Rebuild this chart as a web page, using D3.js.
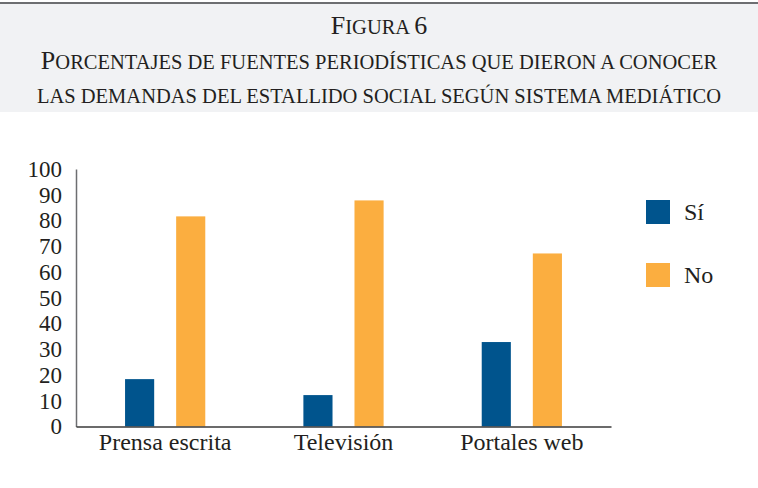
<!DOCTYPE html>
<html lang="es">
<head>
<meta charset="utf-8">
<title>Figura 6</title>
<script src="https://cdn.jsdelivr.net/npm/d3@7"></script>
<style>
    body { margin: 0; background: #fff; }
    #chart-area { width: 758px; height: 488px; }
    text { font-family: "Liberation Serif", "Times New Roman", serif; fill: #231f20; }
</style>
</head>
<body>
<div id="chart-area"></div>
<script>
// data
let categories = ["Prensa escrita", "Televisión", "Portales web"];
let seriesNames = ["Sí", "No"];
let siValues = [18.4, 12.2, 32.8];
let noValues = [81.6, 87.8, 67.2];
let yTicks = [0, 10, 20, 30, 40, 50, 60, 70, 80, 90, 100];
let titleLines = [
    "Figura 6",
    "Porcentajes de fuentes periodísticas que dieron a conocer",
    "las demandas del estallido social según sistema mediático"
];
let colors = ["#00548d", "#fbae40"];

// split a string into runs for hand-made small caps
function smallCapRuns(str) {
    let runs = [];
    for (let ch of str) {
        let small = ch !== ch.toUpperCase() || ch === " ";
        let last = runs[runs.length - 1];
        if (last && last.small === small) last.text += ch.toUpperCase();
        else runs.push({small: small, text: ch.toUpperCase()});
    }
    return runs;
}

class groupedBars {
    constructor(parentElement) {
        this.parentElement = parentElement;
        this.initVis();
    }

    initVis() {
        let vis = this;

        vis.svg = d3.select("#" + vis.parentElement).append("svg")
            .attr("width", 758)
            .attr("height", 488);

        // header band
        vis.svg.append("rect")
            .attr("x", 0).attr("y", 3)
            .attr("width", 758).attr("height", 109)
            .attr("fill", "#f1f2f4");
        vis.svg.append("line")
            .attr("x1", 0).attr("x2", 758)
            .attr("y1", 3).attr("y2", 3)
            .attr("stroke", "#6d6e71")
            .attr("stroke-width", 2);

        let capSize = 26, smallSize = 20.5;
        vis.svg.selectAll(".title-line")
            .data(titleLines)
            .enter()
            .append("text")
            .attr("class", "title-line")
            .attr("x", 379)
            .attr("y", (d, i) => [34, 69, 103][i])
            .attr("text-anchor", "middle")
            .selectAll("tspan")
            .data(d => smallCapRuns(d))
            .enter()
            .append("tspan")
            .style("font-size", d => (d.small ? smallSize : capSize) + "px")
            .text(d => d.text);

        vis.margin = {top: 169, left: 76, width: 535, height: 257.5};

        vis.g = vis.svg.append("g")
            .attr("transform", `translate(${vis.margin.left}, ${vis.margin.top})`);

        vis.x0 = d3.scaleBand().domain(categories).range([0, vis.margin.width]);
        vis.x1 = d3.scaleBand().domain(seriesNames)
            .range([0, vis.x0.bandwidth()])
            .paddingInner(0.43)
            .paddingOuter(0.96);
        vis.y = d3.scaleLinear().domain([0, 100]).range([vis.margin.height, 0]);

        vis.wrangleData();
    }

    wrangleData() {
        let vis = this;
        vis.displayData = categories.map((c, i) => ({
            category: c,
            values: [
                {key: seriesNames[0], value: siValues[i], color: colors[0]},
                {key: seriesNames[1], value: noValues[i], color: colors[1]}
            ]
        }));
        vis.updateVis();
    }

    updateVis() {
        let vis = this;

        // bars
        vis.g.selectAll(".group")
            .data(vis.displayData)
            .enter()
            .append("g")
            .attr("class", "group")
            .attr("transform", d => `translate(${vis.x0(d.category)}, 0)`)
            .selectAll("rect")
            .data(d => d.values)
            .enter()
            .append("rect")
            .attr("x", d => vis.x1(d.key))
            .attr("width", vis.x1.bandwidth())
            .attr("y", d => vis.y(d.value))
            .attr("height", d => vis.y(0) - vis.y(d.value))
            .attr("fill", d => d.color);

        // y axis
        let yAxis = vis.g.append("g")
            .attr("class", "axis axis-y")
            .call(d3.axisLeft(vis.y).tickValues(yTicks).tickSize(0).tickPadding(14));
        yAxis.select(".domain").attr("stroke", "#6d6e71").attr("stroke-width", 1.5);
        yAxis.selectAll("text")
            .style("font-size", "23px")
            .style("font-family", "'Liberation Serif', serif")
            .attr("fill", "#231f20");

        // x axis
        let xAxis = vis.g.append("g")
            .attr("class", "axis axis-x")
            .attr("transform", `translate(0, ${vis.margin.height})`)
            .call(d3.axisBottom(vis.x0).tickSize(0).tickPadding(6));
        xAxis.select(".domain").attr("stroke", "#3a3a3a").attr("stroke-width", 1.6);
        xAxis.selectAll("text")
            .style("font-size", "24px")
            .style("font-family", "'Liberation Serif', serif")
            .attr("fill", "#231f20");

        // legend
        let legend = vis.svg.selectAll(".legend")
            .data(seriesNames)
            .enter()
            .append("g")
            .attr("class", "legend")
            .attr("transform", (d, i) => `translate(646, ${200 + i * 63})`);
        legend.append("rect")
            .attr("width", 24).attr("height", 24)
            .attr("fill", (d, i) => colors[i]);
        legend.append("text")
            .attr("x", 38).attr("y", 12)
            .attr("dy", "0.35em")
            .style("font-size", "24px")
            .text(d => d);
    }
}

new groupedBars("chart-area");
</script>
</body>
</html>
